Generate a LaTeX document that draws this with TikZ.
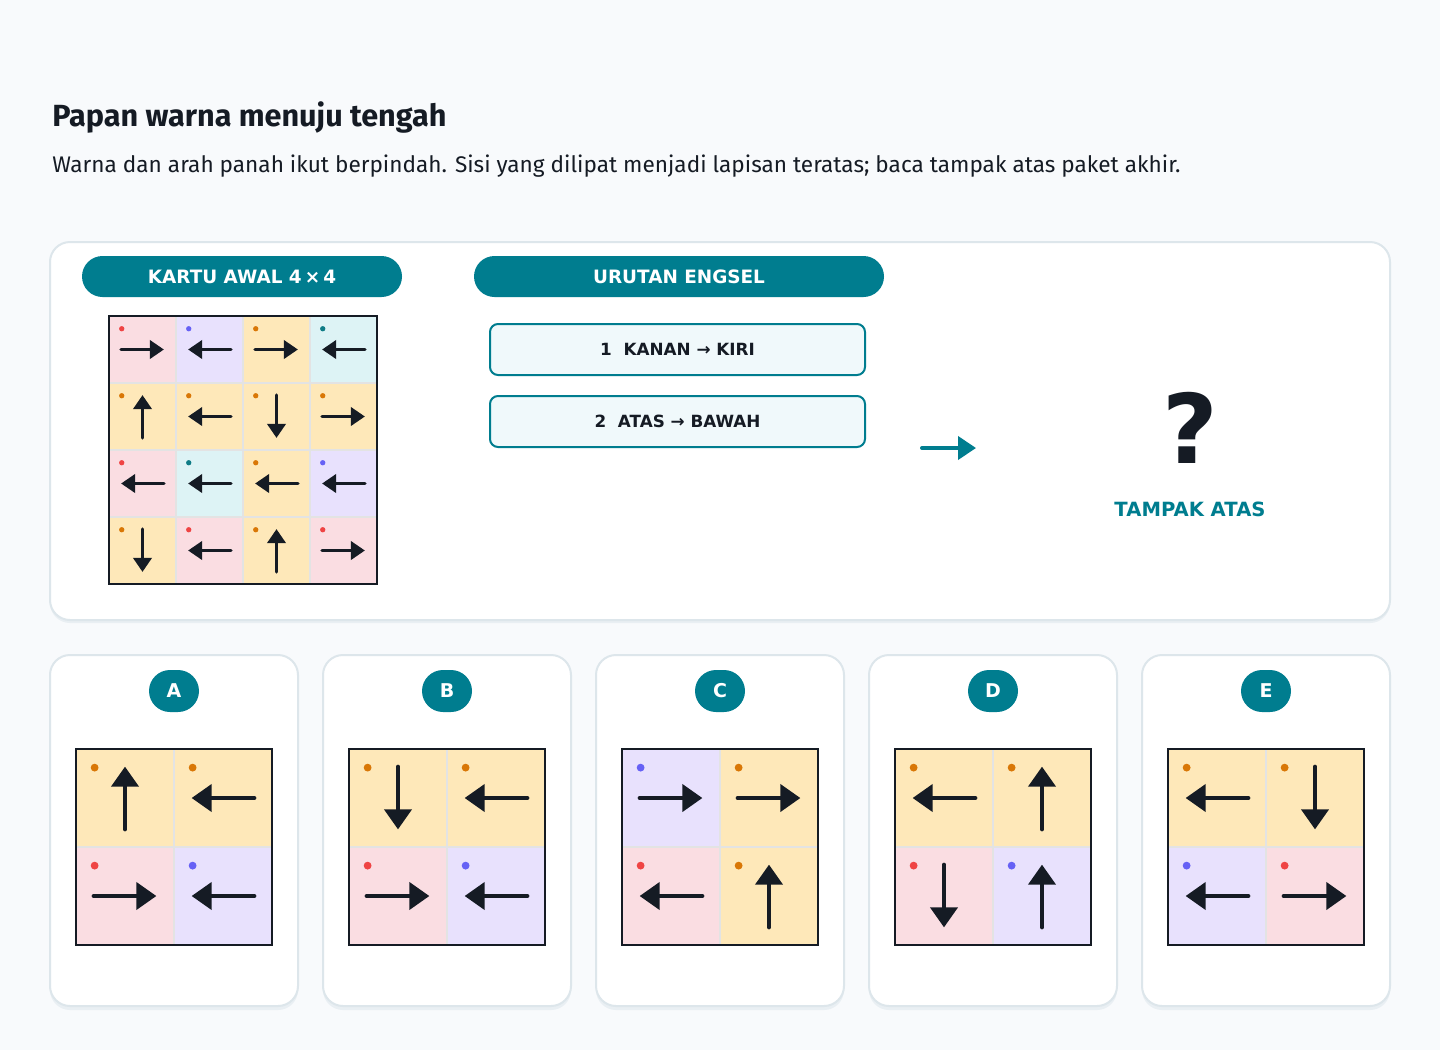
\documentclass[tikz,border=0pt]{standalone}
\usepackage{fontspec}
\setmainfont{Fira Sans}
\newfontfamily\labelfont{DejaVu Sans}
\usepackage{xcolor}
\usepackage{tikz}
\usetikzlibrary{arrows.meta,positioning}
\definecolor{pagebg}{HTML}{F8FAFC}
\definecolor{ink}{HTML}{151B24}
\definecolor{teal}{HTML}{007D8F}
\definecolor{stepfill}{HTML}{F0F9FB}
\definecolor{cardline}{HTML}{DDE6EB}
\definecolor{cardshadow}{HTML}{E9EFF3}
\definecolor{gridline}{HTML}{E3E3E3}
\definecolor{cpink}{HTML}{FADDE2}
\definecolor{clav}{HTML}{E8E1FD}
\definecolor{cyel}{HTML}{FEE8B9}
\definecolor{ccyan}{HTML}{DDF3F5}
\definecolor{dred}{HTML}{EF4444}
\definecolor{dblue}{HTML}{6661F5}
\definecolor{dorange}{HTML}{D97706}
\definecolor{dteal}{HTML}{0E7C86}

% tile: x, y, size, fill, dot, angle, arrow style
\newcommand{\tile}[7]{%
  \begin{scope}[shift={(#1,#2)}]
    \fill[#4] (0,0) rectangle (#3,#3);
    \draw[gridline, line width=1pt] (0,0) rectangle (#3,#3);
    \fill[#5] (0.19*#3,0.19*#3) circle[radius=0.04*#3];
    \draw[#7, rotate around={#6:(0.5*#3,0.5*#3)}] (0.18*#3,0.5*#3) -- (0.82*#3,0.5*#3);
  \end{scope}}

\begin{document}
\begin{tikzpicture}[x=0.5pt, y=-0.5pt]
    \tikzstyle{pill} = [rectangle, fill=teal, text=white, rounded corners=10.25pt, minimum height=20.5pt, inner sep=0pt, font=\labelfont\bfseries\fontsize{9.2}{11}\selectfont]
    \tikzstyle{stepbox} = [rectangle, draw=teal, line width=1pt, fill=stepfill, rounded corners=4pt, minimum width=187.5pt, minimum height=25.5pt, text=ink, font=\labelfont\bfseries\fontsize{8.4}{10}\selectfont]
    \tikzstyle{badge} = [rectangle, fill=teal, text=white, rounded corners=10.5pt, minimum width=25pt, minimum height=21pt, inner sep=0pt, font=\labelfont\bfseries\fontsize{9.5}{11}\selectfont]
    \tikzstyle{panel} = [fill=white, draw=cardline, line width=1pt, rounded corners=10pt]
    \tikzstyle{shade} = [fill=cardshadow, rounded corners=10pt]
    \tikzstyle{smallarrow} = [ink, line width=1.75pt, line cap=round, -{Triangle[length=7pt, width=9pt]}]
    \tikzstyle{bigarrow} = [ink, line width=2pt, line cap=round, -{Triangle[length=10pt, width=13.5pt]}]
    \tikzstyle{flowarrow} = [teal, line width=2pt, line cap=round, -{Triangle[length=9pt, width=11.5pt]}]

    \useasboundingbox[fill=pagebg] (0,0) rectangle (1440,1050);

    % heading
    \node [anchor=west, text=ink, font=\bfseries\fontsize{15.3}{18}\selectfont, inner sep=0pt] (title) at (52,117) {Papan warna menuju tengah};
    \node [anchor=west, text=ink, font=\fontsize{11.3}{14}\selectfont, inner sep=0pt] (subtitle) at (52,166) {Warna dan arah panah ikut berpindah. Sisi yang dilipat menjadi lapisan teratas; baca tampak atas paket akhir.};

    % main panel
    \path [shade] (50,245) rectangle (1390,623);
    \path [panel] (50,242) rectangle (1390,620);

    \node [pill, minimum width=160pt] (startpill) at (242,276.5) {KARTU AWAL 4\,×\,4};
    \node [pill, minimum width=205pt] (orderpill) at (679,276.5) {URUTAN ENGSEL};

    % start card 4 x 4
    \foreach \c/\r/\f/\d/\a in {0/0/cpink/dred/0, 1/0/clav/dblue/180, 2/0/cyel/dorange/0, 3/0/ccyan/dteal/180,
                                0/1/cyel/dorange/90, 1/1/cyel/dorange/180, 2/1/cyel/dorange/270, 3/1/cyel/dorange/0,
                                0/2/cpink/dred/180, 1/2/ccyan/dteal/180, 2/2/cyel/dorange/180, 3/2/clav/dblue/180,
                                0/3/cyel/dorange/270, 1/3/cpink/dred/180, 2/3/cyel/dorange/90, 3/3/cpink/dred/0}
        \tile{109+67*\c}{316+67*\r}{67}{\f}{\d}{\a}{smallarrow};
    \draw [ink, line width=1.25pt] (109,316) rectangle (377,584);

    % hinge order
    \node [stepbox] (stepone) at (677.5,349.5) {1\ \ KANAN → KIRI};
    \node [stepbox] (steptwo) at (677.5,421.5) {2\ \ ATAS → BAWAH};

    \coordinate (flowtail) at (922,448);
    \coordinate (flowhead) at (976,448);
    \draw [flowarrow] (flowtail) -- (flowhead);

    \node [text=ink, font=\labelfont\bfseries\fontsize{48}{50}\selectfont] (qmark) at (1190,428) {?};
    \node [text=teal, font=\labelfont\bfseries\fontsize{9.8}{12}\selectfont] (topview) at (1190,509) {TAMPAK ATAS};

    % answer cards
    \foreach \i/\lab in {0/A, 1/B, 2/C, 3/D, 4/E} {
        \path [shade] (50+273*\i,658) rectangle (298+273*\i,1010);
        \path [panel] (50+273*\i,655) rectangle (298+273*\i,1006);
        \node [badge] (badge\lab) at (174+273*\i,691) {\lab};
    }

    \tile{76}{749}{98}{cyel}{dorange}{90}{bigarrow}
    \tile{174}{749}{98}{cyel}{dorange}{180}{bigarrow}
    \tile{76}{847}{98}{cpink}{dred}{0}{bigarrow}
    \tile{174}{847}{98}{clav}{dblue}{180}{bigarrow}

    \tile{349}{749}{98}{cyel}{dorange}{270}{bigarrow}
    \tile{447}{749}{98}{cyel}{dorange}{180}{bigarrow}
    \tile{349}{847}{98}{cpink}{dred}{0}{bigarrow}
    \tile{447}{847}{98}{clav}{dblue}{180}{bigarrow}

    \tile{622}{749}{98}{clav}{dblue}{0}{bigarrow}
    \tile{720}{749}{98}{cyel}{dorange}{0}{bigarrow}
    \tile{622}{847}{98}{cpink}{dred}{180}{bigarrow}
    \tile{720}{847}{98}{cyel}{dorange}{90}{bigarrow}

    \tile{895}{749}{98}{cyel}{dorange}{180}{bigarrow}
    \tile{993}{749}{98}{cyel}{dorange}{90}{bigarrow}
    \tile{895}{847}{98}{cpink}{dred}{270}{bigarrow}
    \tile{993}{847}{98}{clav}{dblue}{90}{bigarrow}

    \tile{1168}{749}{98}{cyel}{dorange}{180}{bigarrow}
    \tile{1266}{749}{98}{cyel}{dorange}{270}{bigarrow}
    \tile{1168}{847}{98}{clav}{dblue}{180}{bigarrow}
    \tile{1266}{847}{98}{cpink}{dred}{0}{bigarrow}

    \foreach \i in {0,...,4}
        \draw [ink, line width=1.25pt] (76+273*\i,749) rectangle (272+273*\i,945);
\end{tikzpicture}
\end{document}
